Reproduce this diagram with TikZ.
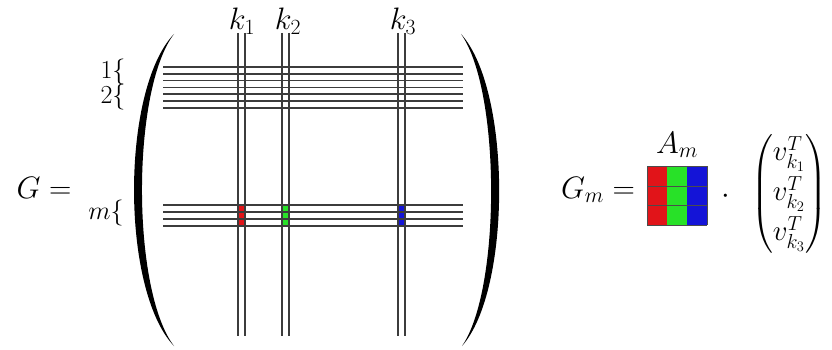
\documentclass[tikz,border=0pt]{standalone}
\usepackage{fix-cm}
\usepackage{amsmath}
\definecolor{cred}{RGB}{225,20,25}
\definecolor{cgreen}{RGB}{40,225,40}
\definecolor{cblue}{RGB}{20,20,215}
\definecolor{gline}{RGB}{60,60,60}
\tikzset{
  big/.style={inner sep=0pt, font=\fontsize{31}{37}\selectfont},
  vecfont/.style={inner sep=0pt, font=\fontsize{29}{35}\selectfont},
  small/.style={inner sep=0pt, font=\fontsize{26}{31}\selectfont},
  gridline/.style={draw=gline, line width=1.3pt},
  cell/.style={draw=black!70, line width=1pt}
}
\begin{document}
\begin{tikzpicture}[x=1pt,y=-1pt]
\useasboundingbox (0,0) rectangle (832,350);
% big parentheses (tapered)
\fill[black] (174,34) .. controls (120.7,90) and (120.7,290) .. (174,346)
  .. controls (131.3,290) and (131.3,90) .. cycle;
\fill[black] (461,34) .. controls (511.7,90) and (511.7,290) .. (462,346)
  .. controls (501,290) and (501,90) .. cycle;
% coloured cells
\fill[cred]   (238,205) rectangle (245,227);
\fill[cgreen] (282,205) rectangle (289,227);
\fill[cblue]  (398,205) rectangle (405,227);
% horizontal rows
\foreach \y in {67,74,80.5,87.5,94,101,108,205,212,219,226}
  \draw[gridline] (163,\y) -- (463,\y);
% vertical columns
\foreach \x in {238,245,282,289,398,405}
  \draw[gridline] (\x,33) -- (\x,336);
% labels
\node[big] (k1) at (242,21) {$k_1$};
\node[big] (k2) at (288,21) {$k_2$};
\node[big] (k3) at (403,21) {$k_3$};
\node[small] (r1) at (113,72) {$1\{$};
\node[small] (r2) at (113,97) {$2\{$};
\node[small] (rm) at (106,213) {$m\{$};
\node[big] (G) at (44,188) {$G=$};
% right side
\node[big] (Gm) at (598,190) {$G_m=$};
\node[big] (Am) at (677,145) {$A_m$};
\foreach \c [count=\i from 0] in {cred,cgreen,cblue}
  \fill[\c] (647+20*\i,166) rectangle (667+20*\i,225);
\foreach \y in {166,186,205.5,225}
  \draw[cell] (647,\y) -- (707,\y);
\foreach \x in {647,707}
  \draw[cell] (\x,166) -- (\x,225);
\node[big] (dot) at (726,197) {$\cdot$};
\node[vecfont] (vec) at (789,194) {$\begin{pmatrix} v_{k_1}^T\\[5pt] v_{k_2}^T\\[5pt] v_{k_3}^T\end{pmatrix}$};
\end{tikzpicture}
\end{document}
